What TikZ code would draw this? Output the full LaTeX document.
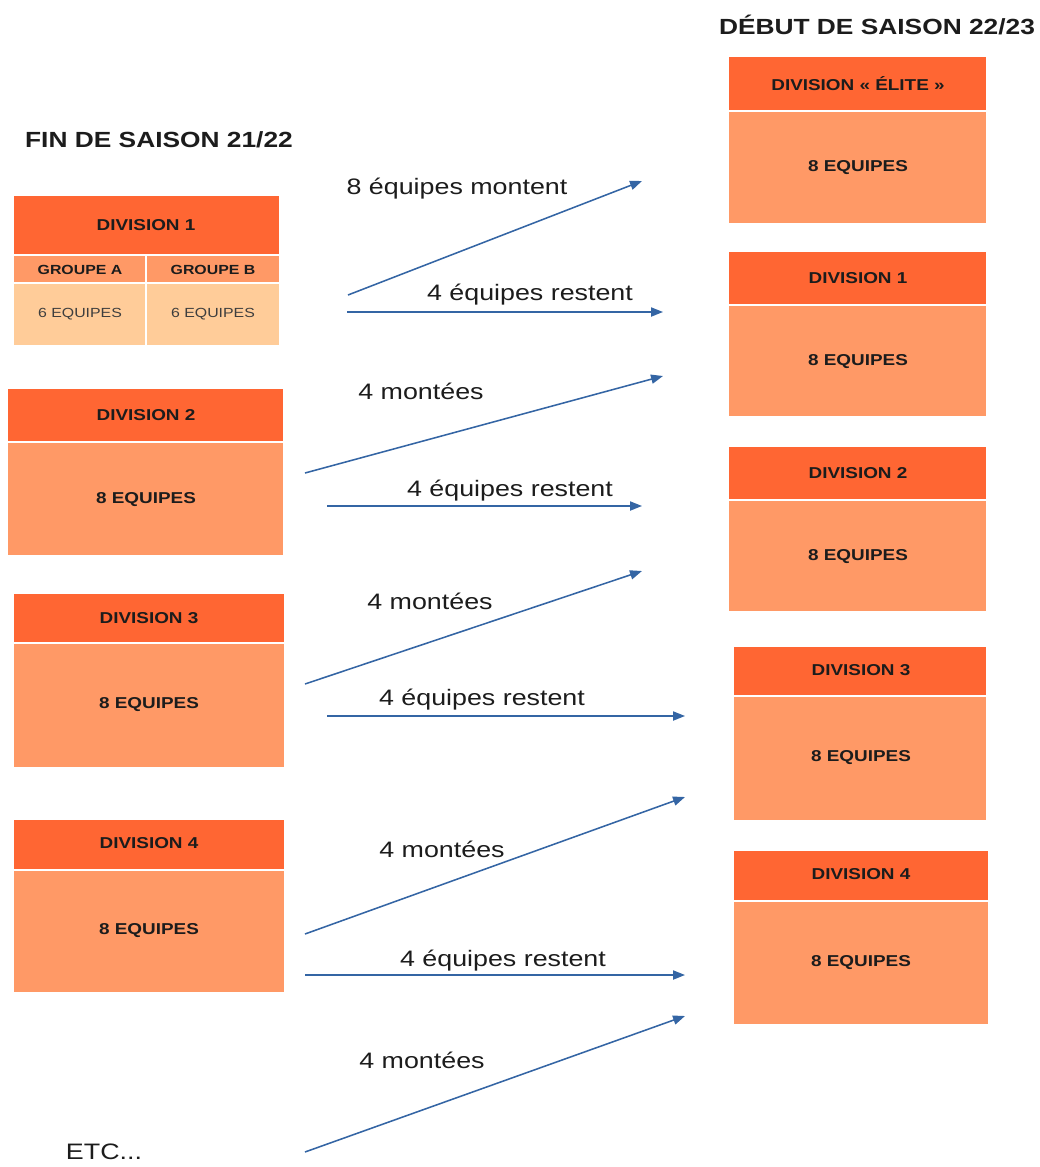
\documentclass[tikz,border=0pt]{standalone}
\usepackage{fontspec}
\setmainfont[FakeStretch=1.2]{Liberation Sans}
\usetikzlibrary{arrows.meta}
\definecolor{orfonce}{HTML}{FF6633}
\definecolor{ormoyen}{HTML}{FF9966}
\definecolor{orclair}{HTML}{FFCC99}
\definecolor{bleufl}{HTML}{3465A4}
\definecolor{encre}{HTML}{1C1C1C}
\begin{document}
\begin{tikzpicture}[x=0.025cm,y=-0.025cm,
    tete/.style={fill=orfonce,draw=white,line width=0.8pt},
    corps/.style={fill=ormoyen,draw=white,line width=0.8pt},
    pale/.style={fill=orclair,draw=white,line width=0.8pt},
    titre/.style={text=encre,font=\fontsize{15.6}{18}\selectfont\bfseries},
    nomdiv/.style={text=encre,font=\fontsize{11.2}{13}\selectfont\bfseries},
    petit/.style={text=encre,font=\fontsize{9.4}{11}\selectfont\bfseries},
    petitfin/.style={text=encre!85,font=\fontsize{9.4}{11}\selectfont},
    legende/.style={text=encre,font=\fontsize{15.9}{18}\selectfont,anchor=base},
    fl/.style={bleufl,line width=1.1pt,-{Triangle[length=8.5pt,width=6.5pt]}}]
        \useasboundingbox (0,0) rectangle (1040,1167);

        % titres
        \node[titre] (fin) at (159,140) {FIN DE SAISON 21/22};
        \node[titre] (debut) at (877,25) {DÉBUT DE SAISON 22/23};

        % division 1 (21/22)
        \draw[tete] (13,195) rectangle (280,255);
        \draw[corps] (13,255) rectangle (146,283);
        \draw[corps] (146,255) rectangle (280,283);
        \draw[pale] (13,283) rectangle (146,346);
        \draw[pale] (146,283) rectangle (280,346);
        \node[nomdiv] (g1) at (146,225) {DIVISION 1};
        \node[petit] (ga) at (80,270) {GROUPE A};
        \node[petit] (gb) at (213,270) {GROUPE B};
        \node[petitfin] (ea) at (80,314) {6 EQUIPES};
        \node[petitfin] (eb) at (213,314) {6 EQUIPES};

        % division 2
        \draw[tete] (7,388) rectangle (284,442);
        \draw[corps] (7,442) rectangle (284,556);
        \node[nomdiv] (g2) at (146,415) {DIVISION 2};
        \node[nomdiv] (g2e) at (146,500) {8 EQUIPES};

        % division 3
        \draw[tete] (13,593) rectangle (285,643);
        \draw[corps] (13,643) rectangle (285,768);
        \node[nomdiv] (g3) at (149,618) {DIVISION 3};
        \node[nomdiv] (g3e) at (149,705) {8 EQUIPES};

        % division 4
        \draw[tete] (13,819) rectangle (285,870);
        \draw[corps] (13,870) rectangle (285,993);
        \node[nomdiv] (g4) at (149,843) {DIVISION 4};
        \node[nomdiv] (g4e) at (149,931) {8 EQUIPES};

        \node[legende] (etc) at (104,1159) {ETC...};

        % elite (22/23)
        \draw[tete] (728,56) rectangle (987,111);
        \draw[corps] (728,111) rectangle (987,224);
        \node[nomdiv] (d0) at (858,84) {DIVISION « ÉLITE »};
        \node[nomdiv] (d0e) at (858,168) {8 EQUIPES};

        % division 1 (22/23)
        \draw[tete] (728,251) rectangle (987,305);
        \draw[corps] (728,305) rectangle (987,417);
        \node[nomdiv] (d1) at (858,278) {DIVISION 1};
        \node[nomdiv] (d1e) at (858,362) {8 EQUIPES};

        % division 2 (22/23)
        \draw[tete] (728,446) rectangle (987,500);
        \draw[corps] (728,500) rectangle (987,612);
        \node[nomdiv] (d2) at (858,473) {DIVISION 2};
        \node[nomdiv] (d2e) at (858,557) {8 EQUIPES};

        % division 3 (22/23)
        \draw[tete] (733,646) rectangle (987,696);
        \draw[corps] (733,696) rectangle (987,821);
        \node[nomdiv] (d3) at (861,670) {DIVISION 3};
        \node[nomdiv] (d3e) at (861,758) {8 EQUIPES};

        % division 4 (22/23)
        \draw[tete] (733,850) rectangle (989,901);
        \draw[corps] (733,901) rectangle (989,1025);
        \node[nomdiv] (d4) at (861,874) {DIVISION 4};
        \node[nomdiv] (d4e) at (861,963) {8 EQUIPES};

        % fleches
        \coordinate (m1a) at (348,295);  \coordinate (m1b) at (642,181);
        \coordinate (r1a) at (347,312);  \coordinate (r1b) at (663,312);
        \coordinate (m2a) at (305,473);  \coordinate (m2b) at (663,376);
        \coordinate (r2a) at (327,506);  \coordinate (r2b) at (642,506);
        \coordinate (m3a) at (305,684);  \coordinate (m3b) at (642,571);
        \coordinate (r3a) at (327,716);  \coordinate (r3b) at (685,716);
        \coordinate (m4a) at (305,934);  \coordinate (m4b) at (685,797);
        \coordinate (r4a) at (305,975);  \coordinate (r4b) at (685,975);
        \coordinate (m5a) at (305,1152); \coordinate (m5b) at (685,1016);

        \draw[fl] (m1a) -- (m1b);
        \draw[fl] (r1a) -- (r1b);
        \draw[fl] (m2a) -- (m2b);
        \draw[fl] (r2a) -- (r2b);
        \draw[fl] (m3a) -- (m3b);
        \draw[fl] (r3a) -- (r3b);
        \draw[fl] (m4a) -- (m4b);
        \draw[fl] (r4a) -- (r4b);
        \draw[fl] (m5a) -- (m5b);

        \node[legende] (l1) at (457,194) {8 équipes montent};
        \node[legende] (l2) at (530,300) {4 équipes restent};
        \node[legende] (l3) at (421,399) {4 montées};
        \node[legende] (l4) at (510,496) {4 équipes restent};
        \node[legende] (l5) at (430,609) {4 montées};
        \node[legende] (l6) at (482,705) {4 équipes restent};
        \node[legende] (l7) at (442,857) {4 montées};
        \node[legende] (l8) at (503,966) {4 équipes restent};
        \node[legende] (l9) at (422,1068) {4 montées};
    \end{tikzpicture}
\end{document}
